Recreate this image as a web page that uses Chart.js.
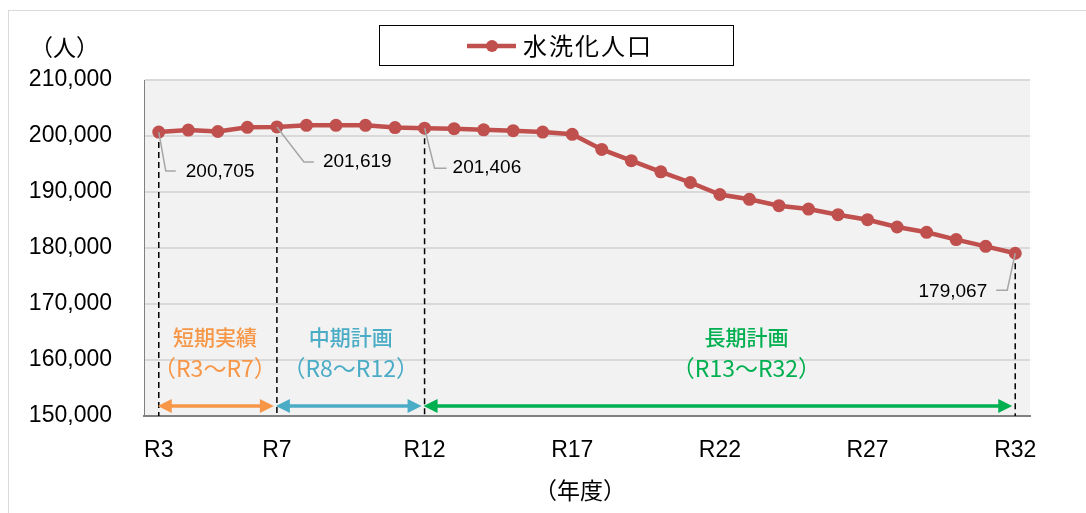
<!DOCTYPE html>
<html lang="ja">
<head>
<meta charset="utf-8">
<title>水洗化人口の推移</title>
<script src="https://cdn.jsdelivr.net/npm/chart.js@4.4.0/dist/chart.umd.min.js"></script>
<style>
  html, body { margin: 0; padding: 0; background: #fff; }
  #wrap { position: relative; width: 1086px; height: 513px; overflow: hidden; }
  #frame { position: absolute; left: 8px; top: 10px; width: 1200px; height: 600px; border: 1.5px solid #d9d9d9; box-sizing: border-box; }
  canvas { position: absolute; left: 0; top: 0; }
</style>
</head>
<body>
<div id="wrap">
  <div id="frame"></div>
  <canvas id="populationChart" width="1086" height="513"></canvas>
</div>
<script>
// 年度（令和）
const years = ['R3', 'R4', 'R5', 'R6', 'R7', 'R8', 'R9', 'R10', 'R11', 'R12',
  'R13', 'R14', 'R15', 'R16', 'R17', 'R18', 'R19', 'R20', 'R21', 'R22',
  'R23', 'R24', 'R25', 'R26', 'R27', 'R28', 'R29', 'R30', 'R31', 'R32'];

// 水洗化人口（人）
const population = [200705, 201050, 200800, 201550, 201619, 201900, 201900, 201900, 201500, 201406,
  201300, 201100, 200950, 200700, 200300, 197600, 195600, 193600, 191700, 189550,
  188700, 187550, 186950, 185950, 185050, 183750, 182800, 181500, 180300, 179067];

// x軸に表示する年度
const yearTicks = ['R3', 'R7', 'R12', 'R17', 'R22', 'R27', 'R32'];

// 値を表示する年度（破線の区切りも同じ）
const labelledYears = ['R3', 'R7', 'R12', 'R32'];

// y軸目盛
const yMin = 150000;
const yMax = 210000;
const yStep = 10000;

// 計画期間
const phaseTitles = ['短期実績', '中期計画', '長期計画'];
const phaseRanges = ['（R3～R7）', '（R8～R12）', '（R13～R32）'];
const phaseFrom = ['R3', 'R7', 'R12'];
const phaseTo = ['R7', 'R12', 'R32'];

const LINE_RED = '#c0504d';
const phaseColors = ['#f79646', '#4bacc6', '#00b050'];
// 期間ラベルの中心（カテゴリ位置）
const phaseLabelAt = [1.9, 6.5, 19.9];

const NUM_FONT = '"Liberation Sans", Arial, sans-serif';
const JP_FONT = '"Noto Sans CJK JP", "Noto Sans", sans-serif';

// 値ラベルの引き出し線（点からのずれ）
const callouts = {
  R3:  { elbow: [7, 39], end: [17, 39], text: [27, 40], align: 'left' },
  R7:  { elbow: [27, 35], end: [37, 35], text: [46, 35], align: 'left' },
  R12: { elbow: [10, 40], end: [22, 40], text: [28, 40], align: 'left' },
  R32: { elbow: [-8, 37], end: [-19, 37], text: [-28, 39], align: 'right' }
};

const plotBackground = {
  id: 'plotBackground',
  beforeDraw(chart) {
    const { ctx, chartArea: a } = chart;
    ctx.save();
    ctx.fillStyle = '#f2f2f2';
    ctx.fillRect(a.left, a.top, a.right - a.left, a.bottom - a.top);
    ctx.restore();
  }
};

function drawArrow(ctx, x1, x2, y, color) {
  const head = 14, half = 7;
  ctx.strokeStyle = color;
  ctx.fillStyle = color;
  ctx.lineWidth = 3.5;
  ctx.beginPath();
  ctx.moveTo(x1 + head - 2, y);
  ctx.lineTo(x2 - head + 2, y);
  ctx.stroke();
  ctx.beginPath();
  ctx.moveTo(x1, y);
  ctx.lineTo(x1 + head, y - half);
  ctx.lineTo(x1 + head, y + half);
  ctx.closePath();
  ctx.fill();
  ctx.beginPath();
  ctx.moveTo(x2, y);
  ctx.lineTo(x2 - head, y - half);
  ctx.lineTo(x2 - head, y + half);
  ctx.closePath();
  ctx.fill();
}

const periodMarks = {
  id: 'periodMarks',
  beforeDatasetsDraw(chart) {
    const { ctx, chartArea: a, scales: { x, y } } = chart;
    ctx.save();

    // 区切りの破線
    ctx.strokeStyle = '#000';
    ctx.lineWidth = 1.5;
    ctx.setLineDash([6, 4]);
    labelledYears.forEach(yr => {
      const i = years.indexOf(yr);
      const px = x.getPixelForValue(i);
      ctx.beginPath();
      ctx.moveTo(px, y.getPixelForValue(population[i]));
      ctx.lineTo(px, a.bottom);
      ctx.stroke();
    });
    ctx.setLineDash([]);

    // 期間の矢印と見出し
    phaseTitles.forEach((title, k) => {
      const x1 = x.getPixelForValue(years.indexOf(phaseFrom[k])) - 1;
      const x2 = x.getPixelForValue(years.indexOf(phaseTo[k])) - 3;
      drawArrow(ctx, x1, x2, a.bottom - 10, phaseColors[k]);

      const cx = x.getPixelForValue(phaseLabelAt[k]);
      ctx.fillStyle = phaseColors[k];
      ctx.textAlign = 'center';
      ctx.textBaseline = 'middle';
      ctx.font = '500 21px ' + JP_FONT;
      ctx.fillText(title, cx, a.bottom - 79);
      ctx.font = '23px ' + JP_FONT;
      ctx.fillText(phaseRanges[k], cx, a.bottom - 48);
    });
    ctx.restore();
  },
  afterDatasetsDraw(chart) {
    const { ctx, scales: { x, y } } = chart;
    ctx.save();
    labelledYears.forEach(yr => {
      const i = years.indexOf(yr);
      const c = callouts[yr];
      const px = x.getPixelForValue(i);
      const py = y.getPixelForValue(population[i]);
      ctx.strokeStyle = '#a6a6a6';
      ctx.lineWidth = 1.5;
      ctx.beginPath();
      ctx.moveTo(px, py);
      ctx.lineTo(px + c.elbow[0], py + c.elbow[1]);
      ctx.lineTo(px + c.end[0], py + c.end[1]);
      ctx.stroke();
      ctx.fillStyle = '#000';
      ctx.font = '19px ' + NUM_FONT;
      ctx.textAlign = c.align;
      ctx.textBaseline = 'middle';
      ctx.fillText(population[i].toLocaleString('en-US'), px + c.text[0], py + c.text[1]);
    });
    ctx.restore();
  }
};

// 凡例（枠付き）と軸タイトル
const frameLegend = {
  id: 'frameLegend',
  afterDraw(chart) {
    const { ctx } = chart;
    const ds = chart.data.datasets[0];
    ctx.save();
    ctx.strokeStyle = '#000';
    ctx.lineWidth = 1;
    ctx.strokeRect(379.5, 25.5, 354, 40);
    ctx.strokeStyle = ds.borderColor;
    ctx.lineWidth = 4.5;
    ctx.beginPath();
    ctx.moveTo(467, 46);
    ctx.lineTo(516, 46);
    ctx.stroke();
    ctx.fillStyle = ds.borderColor;
    ctx.beginPath();
    ctx.arc(492, 46, 6, 0, Math.PI * 2);
    ctx.fill();
    ctx.fillStyle = '#000';
    ctx.font = '24px ' + JP_FONT;
    ctx.textAlign = 'left';
    ctx.textBaseline = 'middle';
    ctx.letterSpacing = '2px';
    ctx.fillText(ds.label, 523, 46);
    ctx.letterSpacing = '0px';

    ctx.font = '23px ' + JP_FONT;
    ctx.fillText('（人）', 30, 47);
    ctx.textAlign = 'center';
    ctx.fillText('（年度）', 580, 490);
    ctx.restore();
  }
};

new Chart(document.getElementById('populationChart'), {
  type: 'line',
  data: {
    labels: years,
    datasets: [{
      label: '水洗化人口',
      data: population,
      borderColor: LINE_RED,
      backgroundColor: LINE_RED,
      borderWidth: 4.5,
      pointRadius: 6.5,
      pointBackgroundColor: LINE_RED,
      pointBorderWidth: 0,
      tension: 0
    }]
  },
  options: {
    responsive: false,
    animation: false,
    layout: { padding: { top: 80, right: 56, left: 0, bottom: 0 } },
    plugins: {
      legend: { display: false },
      tooltip: { enabled: false }
    },
    scales: {
      x: {
        offset: true,
        grid: { display: false, drawTicks: false },
        border: { color: '#808080', width: 2 },
        ticks: {
          autoSkip: false,
          maxRotation: 0,
          padding: 21,
          color: '#000',
          font: { family: NUM_FONT, size: 23 },
          callback: (v, i) => (yearTicks.includes(years[i]) ? years[i] : '')
        },
        afterFit(scale) { scale.height = 97; }
      },
      y: {
        min: yMin,
        max: yMax,
        grid: { color: '#d9d9d9', lineWidth: 2, drawTicks: false },
        border: { color: '#808080', width: 1 },
        ticks: {
          stepSize: yStep,
          padding: 32,
          color: '#000',
          font: { family: NUM_FONT, size: 23 },
          callback: v => v.toLocaleString('en-US')
        },
        afterFit(scale) { scale.width = 144; }
      }
    }
  },
  plugins: [plotBackground, periodMarks, frameLegend]
});
</script>
</body>
</html>
